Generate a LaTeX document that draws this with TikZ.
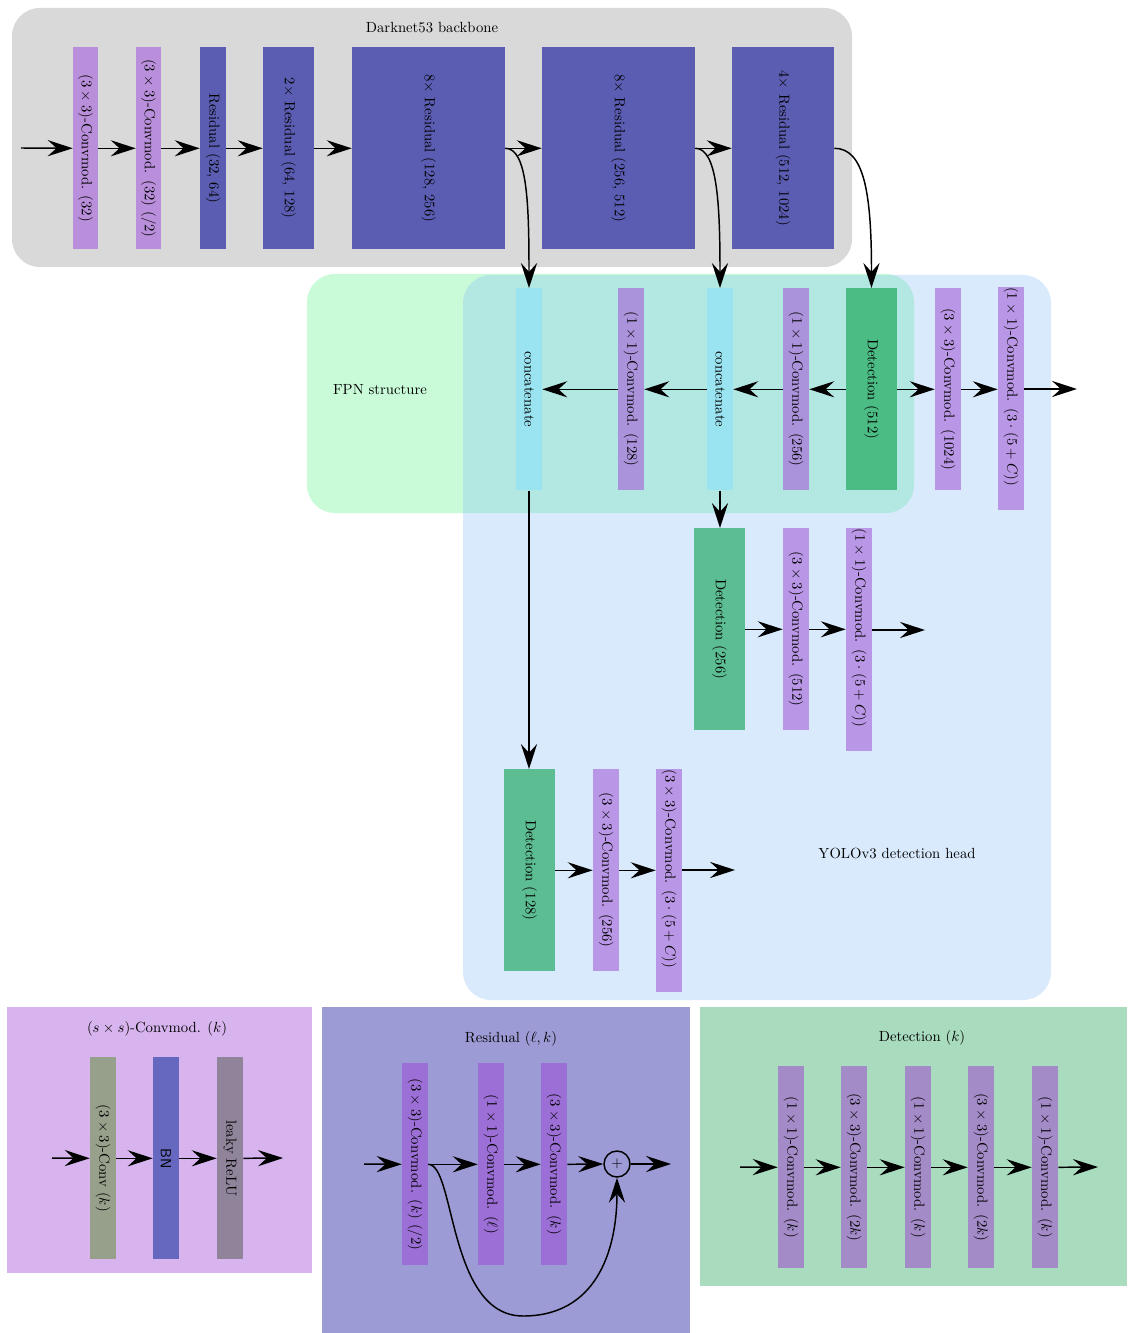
\documentclass[tikz,border=0pt]{standalone}
\usepackage{graphicx}
\usetikzlibrary{arrows.meta}

\definecolor{bbgray}{HTML}{D9D9D9}
\definecolor{fpngreen}{HTML}{C9FBD9}
\definecolor{headblue}{RGB}{134,188,248}
\definecolor{convbb}{HTML}{B98FDB}
\definecolor{resblue}{HTML}{5B5DB3}
\definecolor{concatcyan}{HTML}{9AE3F0}
\definecolor{convfpn}{HTML}{AA93DB}
\definecolor{detfpn}{HTML}{4CBC85}
\definecolor{convhead}{HTML}{B996E6}
\definecolor{dethead}{HTML}{5BBD91}
\definecolor{panelconv}{HTML}{D7B4EE}
\definecolor{rawconv}{HTML}{97A08A}
\definecolor{bnblue}{HTML}{6667BE}
\definecolor{relugray}{HTML}{90849B}
\definecolor{panelres}{HTML}{9D9BD5}
\definecolor{convres}{HTML}{9C6FD6}
\definecolor{paneldet}{HTML}{A9DBBE}
\definecolor{convdet}{HTML}{A38BC8}

% text running top to bottom inside the layer blocks
\newcommand{\vlabel}[1]{\rotatebox{-90}{#1}}
% output layers: label starts at the top, block runs on below it
\newcommand{\vlabeltop}[1]{\rotatebox{-90}{#1\hspace*{16pt}}}

\tikzset{
  layer/.style={anchor=north, inner xsep=0pt, inner ysep=0pt,
    minimum height=202*0.68pt, minimum width=26*0.68pt, text=black},
  wd/.style={minimum width=#1*0.68pt},
  arr/.style={line width=1pt, -{Stealth[length=17pt,width=11pt,inset=6pt]}},
  groupbox/.style={rounded corners=19pt},
}

\begin{document}
\begin{tikzpicture}[x=0.68pt,y=-0.68pt]
\useasboundingbox (0,0) rectangle (1127,1333);

% ---------- group backgrounds ----------
\fill[bbgray, groupbox] (12,8) rectangle (852,267);
\node (tbb) at (432,28) {Darknet53 backbone};
\fill[fpngreen, groupbox] (307,274) rectangle (914,513);
\fill[headblue, fill opacity=0.315, groupbox] (463,275) rectangle (1051,1000);
\node (tfpn) at (380,390) {FPN structure};
\node (thead) at (897,853) {YOLOv3 detection head};

\fill[panelconv] (7,1007) rectangle (312,1273);
\fill[panelres] (322,1007) rectangle (690,1333);
\fill[paneldet] (700,1007) rectangle (1127,1286);

% ---------- backbone ----------
\node[layer, wd=25, fill=convbb] (b1) at (85.5,47) {\vlabel{$(3\times3)$-Convmod. (32)}};
\node[layer, wd=25, fill=convbb] (b2) at (148.5,47) {\vlabel{$(3\times3)$-Convmod. (32) (/2)}};
\node[layer, wd=26, fill=resblue] (b3) at (213,47) {\vlabel{Residual (32, 64)}};
\node[layer, wd=51, fill=resblue] (b4) at (288.5,47) {\vlabel{$2\times$ Residual (64, 128)}};
\node[layer, wd=153, fill=resblue] (b5) at (428.5,47) {\vlabel{$8\times$ Residual (128, 256)}};
\node[layer, wd=153, fill=resblue] (b6) at (618.5,47) {\vlabel{$8\times$ Residual (256, 512)}};
\node[layer, wd=102, fill=resblue] (b7) at (783,47) {\vlabel{$4\times$ Residual (512, 1024)}};

\coordinate (in0) at (21,148);
\draw[arr] (in0) -- (b1.west);
\draw[arr] (b1.east) -- (b2.west);
\draw[arr] (b2.east) -- (b3.west);
\draw[arr] (b3.east) -- (b4.west);
\draw[arr] (b4.east) -- (b5.west);
\draw[arr] (b5.east) -- (b6.west);
\draw[arr] (b6.east) -- (b7.west);

% ---------- FPN row ----------
\node[layer, fill=concatcyan] (c1) at (529,288) {\vlabel{concatenate}};
\node[layer, fill=convfpn] (f128) at (631,288) {\vlabel{$(1\times1)$-Convmod. (128)}};
\node[layer, fill=concatcyan] (c2) at (720,288) {\vlabel{concatenate}};
\node[layer, fill=convfpn] (f256) at (796,288) {\vlabel{$(1\times1)$-Convmod. (256)}};
\node[layer, wd=51, fill=detfpn] (d512) at (871.5,288) {\vlabel{Detection (512)}};
\node[layer, fill=convhead] (h1024) at (948,288) {\vlabel{$(3\times3)$-Convmod. (1024)}};
\node[layer, fill=convhead] (o1) at (1011,287) {\vlabeltop{$(1\times1)$-Convmod. $(3\cdot(5+C))$}};
\coordinate (out1) at (1077,389);

\draw[arr] (b5.east) .. controls +(22,0) and +(0,-85) .. (c1.north);
\draw[arr] (b6.east) .. controls +(22,0) and +(0,-85) .. (c2.north);
\draw[arr] (b7.east) .. controls +(30,0) and +(0,-95) .. (d512.north);

\draw[arr] (d512.west) -- (f256.east);
\draw[arr] (f256.west) -- (c2.east);
\draw[arr] (c2.west) -- (f128.east);
\draw[arr] (f128.west) -- (c1.east);
\draw[arr] (d512.east) -- (h1024.west);
\draw[arr] (h1024.east) -- (h1024.east -| o1.west);
\draw[arr] (o1.east |- out1) -- (out1);

% ---------- middle scale ----------
\node[layer, wd=51, fill=dethead] (d256) at (719.5,528) {\vlabel{Detection (256)}};
\node[layer, fill=convhead] (h512) at (796,528) {\vlabel{$(3\times3)$-Convmod. (512)}};
\node[layer, fill=convhead] (o2) at (859,528) {\vlabeltop{$(1\times1)$-Convmod. $(3\cdot(5+C))$}};
\coordinate (out2) at (925,630);

\draw[arr] (c2.south) -- (c2.south |- d256.north);
\draw[arr] (d256.east) -- (h512.west);
\draw[arr] (h512.east) -- (h512.east -| o2.west);
\draw[arr] (o2.east |- out2) -- (out2);

% ---------- small scale ----------
\node[layer, wd=51, fill=dethead] (d128) at (529.5,769) {\vlabel{Detection (128)}};
\node[layer, fill=convhead] (h256) at (606,769) {\vlabel{$(3\times3)$-Convmod. (256)}};
\node[layer, fill=convhead] (o3) at (669,769) {\vlabeltop{$(3\times3)$-Convmod. $(3\cdot(5+C))$}};
\coordinate (out3) at (735,870);

\draw[arr] (c1.south) -- (c1.south |- d128.north);
\draw[arr] (d128.east) -- (h256.west);
\draw[arr] (h256.east) -- (h256.east -| o3.west);
\draw[arr] (o3.east |- out3) -- (out3);

% ---------- panel: convolution module ----------
\node (tconv) at (157,1029) {$(s\times s)$-Convmod. $(k)$};
\node[layer, fill=rawconv] (l1) at (103,1057) {\vlabel{$(3\times3)$-Conv $(k)$}};
\node[layer, fill=bnblue] (l2) at (166,1057) {\vlabel{\textsf{BN}}};
\node[layer, fill=relugray] (l3) at (230,1057) {\vlabel{leaky ReLU}};
\coordinate (lin) at (52,1158);
\coordinate (lout) at (283,1158);
\draw[arr] (lin) -- (l1.west);
\draw[arr] (l1.east) -- (l2.west);
\draw[arr] (l2.east) -- (l3.west);
\draw[arr] (l3.east) -- (lout);

% ---------- panel: residual block ----------
\node (tres) at (511,1039) {Residual $(\ell, k)$};
\node[layer, fill=convres] (r1) at (415,1063) {\vlabel{$(3\times3)$-Convmod. $(k)$ (/2)}};
\node[layer, fill=convres] (r2) at (491,1063) {\vlabel{$(1\times1)$-Convmod. $(\ell)$}};
\node[layer, fill=convres] (r3) at (554,1063) {\vlabel{$(3\times3)$-Convmod. $(k)$}};
\node[circle, draw, line width=1pt, minimum size=26*0.68pt, inner sep=0pt] (plus) at (617,1164) {$+$};
\coordinate (rin) at (364,1164);
\coordinate (rout) at (671,1164);
\coordinate (skipbot) at (523,1316);
\draw[arr] (rin) -- (r1.west);
\draw[arr] (r1.east) -- (r2.west);
\draw[arr] (r2.east) -- (r3.west);
\draw[arr] (r3.east) -- (plus.west);
\draw[arr] (plus.east) -- (rout);
\draw[arr] (r1.east) .. controls +(27,0) and +(-75,0) .. (skipbot)
  .. controls +(72,0) and +(0,75) .. (plus.south);

% ---------- panel: detection block ----------
\node (tdet) at (922,1038) {Detection $(k)$};
\node[layer, fill=convdet] (e1) at (791,1066) {\vlabel{$(1\times1)$-Convmod. $(k)$}};
\node[layer, fill=convdet] (e2) at (854,1066) {\vlabel{$(3\times3)$-Convmod. $(2k)$}};
\node[layer, fill=convdet] (e3) at (918,1066) {\vlabel{$(1\times1)$-Convmod. $(k)$}};
\node[layer, fill=convdet] (e4) at (981,1066) {\vlabel{$(3\times3)$-Convmod. $(2k)$}};
\node[layer, fill=convdet] (e5) at (1045,1066) {\vlabel{$(1\times1)$-Convmod. $(k)$}};
\coordinate (ein) at (740,1167);
\coordinate (eout) at (1098,1167);
\draw[arr] (ein) -- (e1.west);
\draw[arr] (e1.east) -- (e2.west);
\draw[arr] (e2.east) -- (e3.west);
\draw[arr] (e3.east) -- (e4.west);
\draw[arr] (e4.east) -- (e5.west);
\draw[arr] (e5.east) -- (eout);

\end{tikzpicture}
\end{document}
